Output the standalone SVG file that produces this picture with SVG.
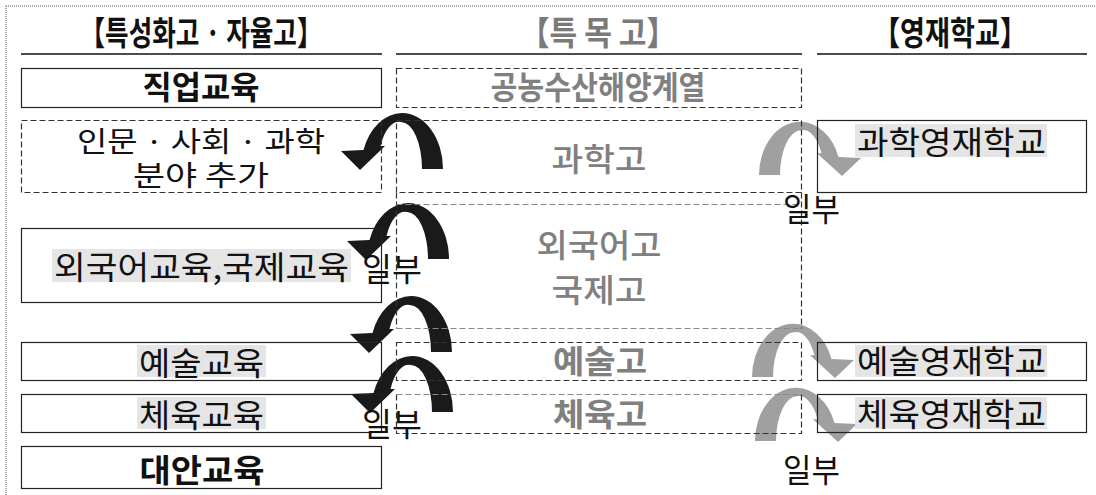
<svg xmlns="http://www.w3.org/2000/svg" xmlns:xlink="http://www.w3.org/1999/xlink" width="1096" height="495" viewBox="0 0 1096 495">
<style>
text{font-family:"Noto Sans CJK KR","Noto Sans",sans-serif;fill:#111;}
.hd{font-size:33px;font-weight:bold;}
.hdg{font-size:33px;font-weight:bold;fill:#7a7a7a;}
.t{font-size:32px;}
.t2{font-size:28px;}
.tb{font-size:32px;font-weight:bold;}
.g{font-size:32px;fill:#808080;font-weight:500;}
.gb{font-size:32px;fill:#808080;font-weight:bold;}
.box{fill:none;stroke:#222;stroke-width:1.2;}
.dbox{fill:none;stroke:#333;stroke-width:1.2;stroke-dasharray:6 3;}
.gline{fill:none;stroke:#888;stroke-width:1.2;stroke-dasharray:6 3;}
.hl{fill:#e5e5e5;}
.ul{stroke:#111;stroke-width:1.5;}
.blk{fill:#1a1a1a;}
.gry{fill:#a0a0a0;}
</style>
<defs>
<path id="arr" d="M 41 0 A 41 56 0 0 0 0 -56 A 41 56 0 0 0 -38.5 -19 L -61 -18 L -42 1 L -17 -23 L -21.5 -23 A 21 47 0 0 1 -1 -47 A 21 47 0 0 1 20 0 Z"/>
</defs>
<rect x="0" y="0" width="1096" height="495" fill="#fff"/>
<path d="M6 6 H1096 M6 6 V495" stroke="#555" stroke-width="1" stroke-dasharray="1 1" fill="none"/>

<g id="connectors">
<use xlink:href="#arr" class="blk" transform="translate(402,169)"/>
<use xlink:href="#arr" class="blk" transform="translate(408,259)"/>
<use xlink:href="#arr" class="blk" transform="translate(411,352)"/>
<use xlink:href="#arr" class="blk" transform="translate(412,412)"/>
<use xlink:href="#arr" class="gry" transform="translate(800,175) scale(-1,0.95)"/>
<use xlink:href="#arr" class="gry" transform="translate(793,377) scale(-1,0.95)"/>
<use xlink:href="#arr" class="gry" transform="translate(796,441) scale(-1,0.95)"/>
</g>

<g id="headers">
<text class="hd" x="201" y="45" text-anchor="middle" textLength="243" lengthAdjust="spacingAndGlyphs">【특성화고 · 자율고】</text>
<line class="ul" x1="21" y1="54" x2="382" y2="54"/>
<text class="hdg" x="598" y="45" text-anchor="middle" textLength="157" lengthAdjust="spacingAndGlyphs">【특 목 고】</text>
<line class="ul" x1="396" y1="54" x2="802" y2="54"/>
<text class="hd" x="950" y="45" text-anchor="middle" textLength="154" lengthAdjust="spacingAndGlyphs">【영재학교】</text>
<line class="ul" x1="817" y1="54" x2="1087" y2="54"/>
</g>

<g id="node-jigup">
<rect class="box" x="21.5" y="68.5" width="360" height="39"/>
<text class="tb" x="201" y="99" text-anchor="middle" textLength="117" lengthAdjust="spacingAndGlyphs">직업교육</text>
</g>
<g id="node-inmun">
<rect class="dbox" x="21.5" y="120.5" width="360" height="72"/>
<text class="t2" x="201" y="152" text-anchor="middle" textLength="248" lengthAdjust="spacingAndGlyphs">인문 · 사회 · 과학</text>
<text class="t2" x="201" y="186" text-anchor="middle" textLength="136" lengthAdjust="spacingAndGlyphs">분야 추가</text>
</g>
<g id="node-foreign">
<rect class="box" x="21.5" y="228.5" width="360" height="74"/>
<rect class="hl" x="52" y="249" width="299" height="33"/>
<text class="t" x="54" y="279" textLength="295" lengthAdjust="spacingAndGlyphs">외국어교육,국제교육</text>
</g>
<g id="node-art">
<rect class="box" x="21.5" y="342.5" width="360" height="38"/>
<rect class="hl" x="137" y="345" width="129" height="32"/>
<text class="t" x="139" y="375" textLength="125" lengthAdjust="spacingAndGlyphs">예술교육</text>
</g>
<g id="node-sport">
<rect class="box" x="21.5" y="394.5" width="360" height="38"/>
<rect class="hl" x="137" y="397" width="129" height="32"/>
<text class="t" x="139" y="427" textLength="125" lengthAdjust="spacingAndGlyphs">체육교육</text>
</g>
<g id="node-alt">
<rect class="box" x="21.5" y="446.5" width="360" height="42"/>
<text class="tb" x="202" y="482" text-anchor="middle" textLength="125" lengthAdjust="spacingAndGlyphs">대안교육</text>
</g>

<g id="node-agri">
<rect class="dbox" x="396.5" y="68.5" width="405" height="39"/>
<text class="gb" x="598" y="99" text-anchor="middle" textLength="215" lengthAdjust="spacingAndGlyphs">공농수산해양계열</text>
</g>
<g id="node-sci">
<rect class="dbox" x="396.5" y="120.5" width="405" height="72"/>
<text class="g" x="599" y="171" text-anchor="middle" textLength="95" lengthAdjust="spacingAndGlyphs">과학고</text>
</g>
<g id="node-flang">
<path class="dbox" d="M396.5 192.5 V328.5 M801.5 192.5 V328.5"/>
<path class="gline" d="M396.5 204.5 H801.5 M396.5 328.5 H801.5"/>
<text class="g" x="599" y="257" text-anchor="middle" textLength="125" lengthAdjust="spacingAndGlyphs">외국어고</text>
<text class="g" x="599" y="302" text-anchor="middle" textLength="95" lengthAdjust="spacingAndGlyphs">국제고</text>
</g>
<g id="node-artsch">
<rect class="dbox" x="396.5" y="342.5" width="405" height="38"/>
<text class="gb" x="600" y="373" text-anchor="middle" textLength="94" lengthAdjust="spacingAndGlyphs">예술고</text>
</g>
<g id="node-sportsch">
<path class="dbox" d="M396.5 394.5 V433.5 H801.5 V394.5"/>
<path class="gline" d="M396.5 394.5 H801.5"/>
<text class="gb" x="600" y="426" text-anchor="middle" textLength="94" lengthAdjust="spacingAndGlyphs">체육고</text>
</g>

<g id="node-sci-gifted">
<rect class="box" x="817.5" y="120.5" width="269" height="72"/>
<rect class="hl" x="855" y="124" width="192" height="33"/>
<text class="t" x="857" y="154" textLength="189" lengthAdjust="spacingAndGlyphs">과학영재학교</text>
</g>
<g id="node-art-gifted">
<rect class="box" x="817.5" y="342.5" width="269" height="38"/>
<rect class="hl" x="855" y="345" width="192" height="32"/>
<text class="t" x="857" y="373" textLength="189" lengthAdjust="spacingAndGlyphs">예술영재학교</text>
</g>
<g id="node-sport-gifted">
<rect class="box" x="817.5" y="394.5" width="269" height="38"/>
<rect class="hl" x="855" y="397" width="192" height="32"/>
<text class="t" x="857" y="426" textLength="189" lengthAdjust="spacingAndGlyphs">체육영재학교</text>
</g>

<g id="labels">
<text class="t" x="362" y="281" textLength="60" lengthAdjust="spacingAndGlyphs">일부</text>
<text class="t" x="362" y="436" textLength="60" lengthAdjust="spacingAndGlyphs">일부</text>
<text class="t" x="783" y="221" textLength="57" lengthAdjust="spacingAndGlyphs">일부</text>
<text class="t" x="783" y="482" textLength="57" lengthAdjust="spacingAndGlyphs">일부</text>
</g>
</svg>
